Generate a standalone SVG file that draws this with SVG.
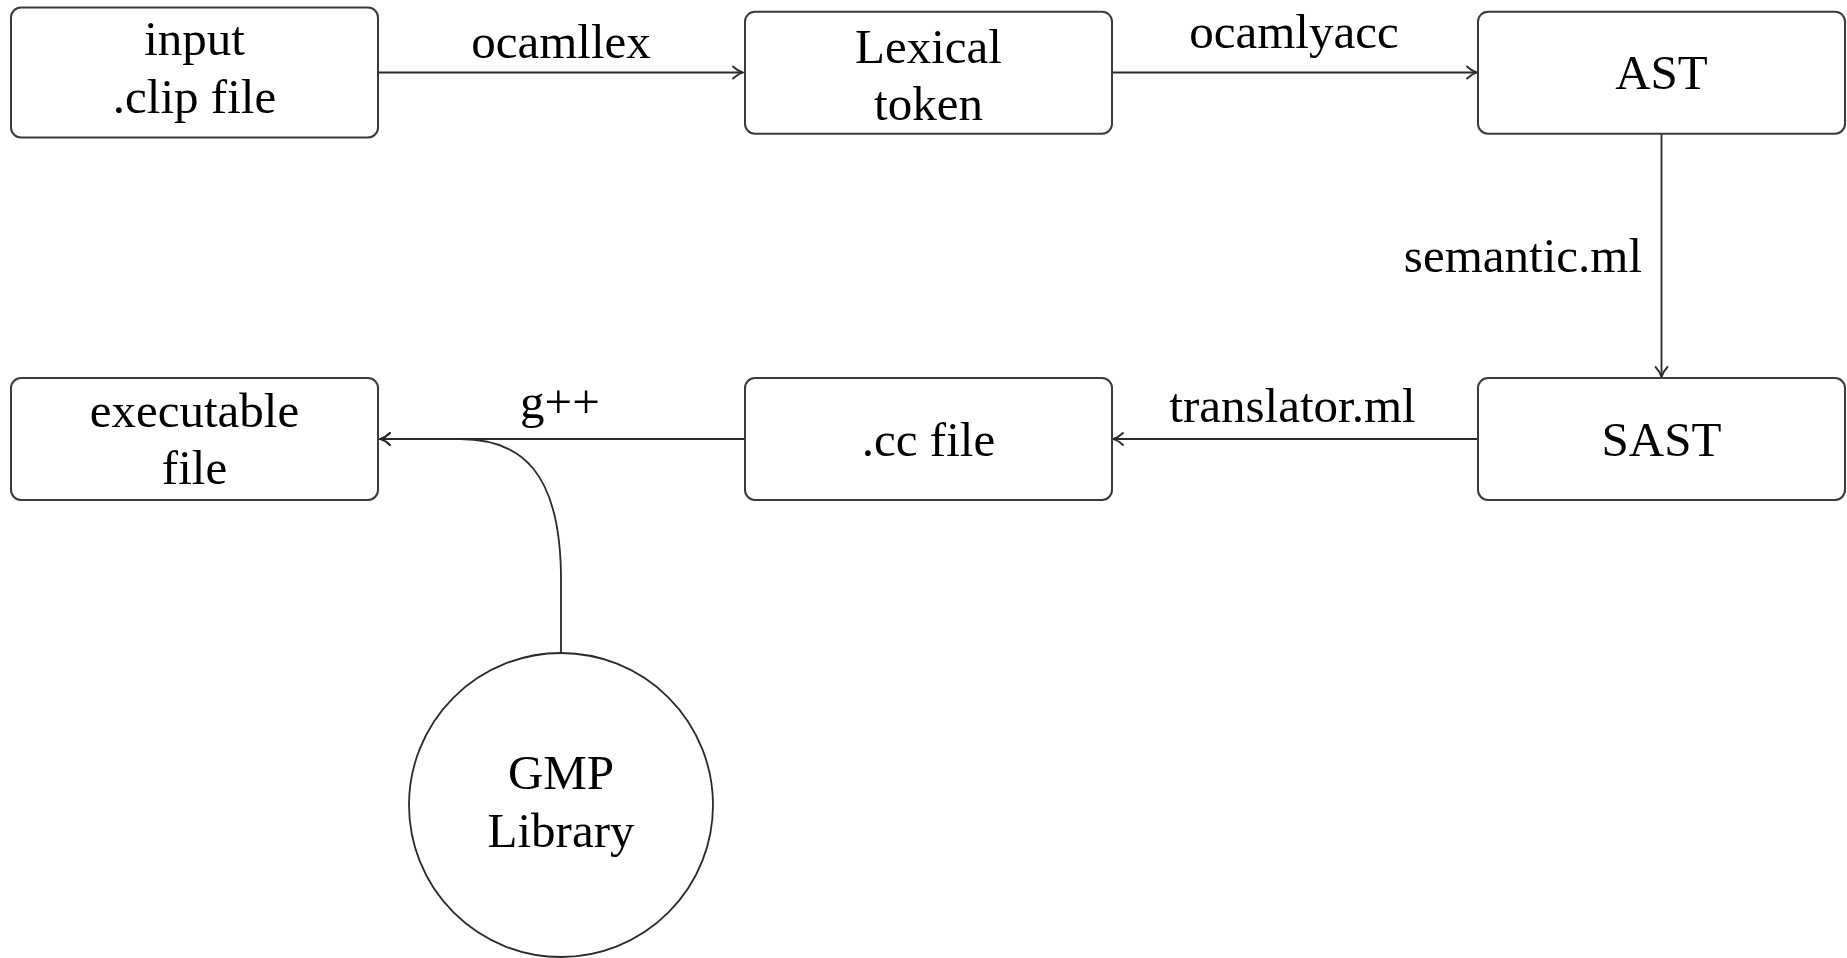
<svg xmlns="http://www.w3.org/2000/svg" width="1847" height="958" viewBox="0 0 1847 958">
<defs>
<style>
.box{fill:#fff;stroke:#3a3a3a;stroke-width:2}
.t{font-family:'Liberation Serif',serif;font-size:49px;fill:#000;text-anchor:middle}
.edge{fill:none;stroke:#2a2a2a;stroke-width:1.8}
</style>
<marker id="arr" viewBox="-12 -8 14 16" markerWidth="14" markerHeight="16" refX="0" refY="0" orient="auto" markerUnits="userSpaceOnUse" overflow="visible">
<path d="M-10,-6 C-6,-2 -3,-0.8 0,0 C-3,0.8 -6,2 -10,6" fill="none" stroke="#2a2a2a" stroke-width="1.8" stroke-linecap="round"/>
</marker>
</defs>
<rect width="1847" height="958" fill="#fff"/>
<g id="connectors">
<path class="edge" d="M378,72.5 L743,72.5" marker-end="url(#arr)"/>
<path class="edge" d="M1112,72.5 L1477,72.5" marker-end="url(#arr)"/>
<path class="edge" d="M1661.5,134 L1661.5,377" marker-end="url(#arr)"/>
<path class="edge" d="M1478,439 L1113,439" marker-end="url(#arr)"/>
<path class="edge" d="M745,439 L380,439" marker-end="url(#arr)"/>
<path class="edge" d="M561,653 L561,580 C561,470 520,439 460,439 L380,439" marker-end="url(#arr)"/>
<text class="t" x="561" y="58">ocamllex</text>
<text class="t" x="1294" y="48">ocamlyacc</text>
<text class="t" x="1642" y="272" style="text-anchor:end">semantic.ml</text>
<text class="t" x="1292.5" y="422">translator.ml</text>
<text class="t" x="560" y="418">g++</text>
</g>
<g id="input">
<rect class="box" x="11" y="7.5" width="367" height="130" rx="10"/>
<text class="t" x="194.5" y="55">input</text>
<text class="t" x="194.5" y="113">.clip file</text>
</g>
<g id="lexical">
<rect class="box" x="745" y="11.7" width="367" height="122" rx="10"/>
<text class="t" x="928.5" y="62.5">Lexical</text>
<text class="t" x="928.5" y="119.5">token</text>
</g>
<g id="ast">
<rect class="box" x="1478" y="11.7" width="367" height="122" rx="10"/>
<text class="t" x="1661.5" y="89">AST</text>
</g>
<g id="sast">
<rect class="box" x="1478" y="378" width="367" height="122" rx="10"/>
<text class="t" x="1661.5" y="456">SAST</text>
</g>
<g id="ccfile">
<rect class="box" x="745" y="378" width="367" height="122" rx="10"/>
<text class="t" x="928.5" y="456">.cc file</text>
</g>
<g id="executable">
<rect class="box" x="11" y="378" width="367" height="122" rx="10"/>
<text class="t" x="194.5" y="427">executable</text>
<text class="t" x="194.5" y="484">file</text>
</g>
<g id="gmp">
<circle cx="561" cy="805" r="152" fill="#fff" stroke="#2a2a2a" stroke-width="1.8"/>
<text class="t" x="561" y="789">GMP</text>
<text class="t" x="561" y="847">Library</text>
</g>
</svg>
